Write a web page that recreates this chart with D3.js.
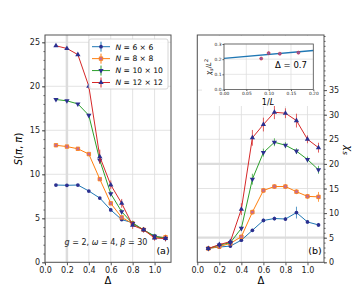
<!DOCTYPE html>
<html>
<head>
<meta charset="utf-8">
<script src="https://cdn.jsdelivr.net/npm/d3@7"></script>
<style>
  body { margin: 0; background: #fff; }
  svg { font-family: "DejaVu Sans", sans-serif; }
</style>
</head>
<body>
<div id="chart"></div>
<script>
// data
var deltas = [0.1, 0.2, 0.3, 0.4, 0.5, 0.6, 0.7, 0.8, 0.9, 1.0, 1.1];
var sizes = ["6 × 6", "8 × 8", "10 × 10", "12 × 12"];
var colors = ["#1f77b4", "#ff7f0e", "#2ca02c", "#d62728"];
var markers = ["circle", "square", "triDown", "triUp"];

// panel (a): S(pi,pi)
var sA6  = [8.78, 8.75, 8.78, 8.1, 7.3, 5.95, 4.85, 4.5, 3.65, 3.0, 2.75];
var sA8  = [13.3, 13.15, 12.9, 12.3, 9.45, 6.7, 5.1, 4.4, 3.7, 2.85, 2.85];
var sA10 = [18.5, 18.35, 18.0, 16.7, 11.6, 7.8, 5.75, 4.4, 3.7, 2.95, 2.7];
var sA12 = [24.6, 24.3, 23.6, 20.0, 12.0, 8.8, 6.7, 4.2, 3.7, 2.75, 2.7];
var eA6  = [0.1, 0.1, 0.1, 0.1, 0.1, 0.15, 0.15, 0.2, 0.2, 0.2, 0.2];
var eA8  = [0.1, 0.1, 0.1, 0.15, 0.2, 0.2, 0.2, 0.3, 0.2, 0.3, 0.3];
var eA10 = [0.1, 0.1, 0.1, 0.2, 0.4, 0.3, 0.3, 0.3, 0.2, 0.3, 0.3];
var eA12 = [0.1, 0.1, 0.1, 0.3, 0.8, 0.5, 0.5, 0.4, 0.3, 0.3, 0.3];

// panel (b): chi_s
var cB6  = [2.85, 3.1, 3.3, 4.5, 6.5, 8.5, 8.9, 8.8, 10.1, 8.2, 7.6];
var cB8  = [2.8, 3.2, 3.85, 5.2, 10.2, 14.6, 15.4, 15.4, 14.35, 13.4, 13.3];
var cB10 = [2.8, 3.5, 4.0, 6.9, 16.9, 22.3, 24.4, 23.8, 22.6, 20.9, 18.8];
var cB12 = [2.8, 3.6, 4.2, 10.8, 25.3, 28.0, 30.5, 30.3, 28.8, 25.0, 23.3];
var eB6  = [0.2, 0.2, 0.2, 0.3, 0.3, 0.4, 0.4, 0.4, 1.2, 0.4, 0.4];
var eB8  = [0.2, 0.2, 0.2, 0.3, 0.5, 0.5, 0.5, 0.5, 0.5, 0.5, 1.0];
var eB10 = [0.2, 0.2, 0.3, 0.5, 1.1, 0.8, 0.8, 0.6, 0.6, 0.6, 0.8];
var eB12 = [0.2, 0.2, 0.3, 1.2, 1.6, 1.4, 1.4, 1.0, 1.4, 0.8, 1.0];

// inset: chi_s/L^2 vs 1/L at Delta = 0.7
var invL = [1 / 12, 1 / 10, 1 / 8, 1 / 6];
var chiL2 = [0.204, 0.24, 0.236, 0.243];
var fitX = [0, 0.2];
var fitY = [0.205, 0.257];

var xTicks = [0.0, 0.2, 0.4, 0.6, 0.8, 1.0];
var yTicksA = [0, 5, 10, 15, 20, 25];
var yTicksB = [0, 5, 10, 15, 20, 25, 30, 35];
var insetXTicks = [0.00, 0.05, 0.10, 0.15, 0.20];
var insetYTicks = [0.0, 0.1, 0.2, 0.3];

var seriesA = [sA6, sA8, sA10, sA12];
var errA = [eA6, eA8, eA10, eA12];
var seriesB = [cB6, cB8, cB10, cB12];
var errB = [eB6, eB8, eB10, eB12];

var spine = "#555", gridC = "#dcdcdc", markFill = "#2b2f8f";

var svg = d3.select("#chart").append("svg")
    .attr("width", 360)
    .attr("height", 300);

var plotTop = 35, plotBottom = 262.3;

// scales
var xA = d3.scaleLinear().domain([0, 1.15]).range([45, 171]);
var yA = d3.scaleLinear().domain([0, 25.83]).range([plotBottom, plotTop]);
var xB = d3.scaleLinear().domain([0, 1.15]).range([197.3, 324]);
var yB = d3.scaleLinear().domain([0, 46.2]).range([plotBottom, plotTop]);

function symbolFor(kind) {
    if (kind == "circle") return d3.symbol().type(d3.symbolCircle).size(11);
    if (kind == "square") return d3.symbol().type(d3.symbolSquare).size(12);
    return d3.symbol().type(d3.symbolTriangle).size(12);
}

function drawPanel(g, x, y, series, errs, yTicks, heavyX, heavyY) {
    // grid
    g.selectAll(".gx").data(xTicks).enter().append("line")
        .attr("x1", d => x(d)).attr("x2", d => x(d))
        .attr("y1", plotTop).attr("y2", plotBottom)
        .attr("stroke", gridC)
        .attr("stroke-width", d => heavyX.indexOf(d) >= 0 ? 2.5 : 0.8);
    g.selectAll(".gy").data(yTicks).enter().append("line")
        .attr("x1", x.range()[0]).attr("x2", x.range()[1])
        .attr("y1", d => y(d)).attr("y2", d => y(d))
        .attr("stroke", gridC)
        .attr("stroke-width", d => heavyY.indexOf(d) >= 0 ? 2.2 : 0.8);

    series.forEach(function (vals, i) {
        var line = d3.line().x((d, j) => x(deltas[j])).y(d => y(d));
        g.append("path")
            .datum(vals)
            .attr("d", line)
            .attr("fill", "none")
            .attr("stroke", colors[i])
            .attr("stroke-width", 1);
        // error bars
        g.selectAll(".err" + i).data(vals).enter().append("line")
            .attr("x1", (d, j) => x(deltas[j])).attr("x2", (d, j) => x(deltas[j]))
            .attr("y1", (d, j) => y(d - errs[i][j]))
            .attr("y2", (d, j) => y(d + errs[i][j]))
            .attr("stroke", colors[i])
            .attr("stroke-opacity", 0.75)
            .attr("stroke-width", 1);
        // markers
        g.selectAll(".mk" + i).data(vals).enter().append("path")
            .attr("d", symbolFor(markers[i]))
            .attr("transform", function (d, j) {
                var rot = markers[i] == "triDown" ? " rotate(180)" : "";
                return "translate(" + x(deltas[j]) + "," + y(d) + ")" + rot;
            })
            .attr("fill", markers[i] == "square" ? "#c06a9a" : markFill)
            .attr("stroke", markers[i] == "square" ? colors[i] : "none")
            .attr("stroke-width", 0.8);
    });

    // frame
    g.append("rect")
        .attr("x", x.range()[0]).attr("y", plotTop)
        .attr("width", x.range()[1] - x.range()[0])
        .attr("height", plotBottom - plotTop)
        .attr("fill", "none")
        .attr("stroke", spine)
        .attr("stroke-width", 1);

    // x axis
    var ax = g.append("g")
        .attr("transform", "translate(0," + plotBottom + ")")
        .call(d3.axisBottom(x).tickValues(xTicks).tickFormat(d3.format(".1f")).tickSize(3).tickPadding(2));
    ax.select(".domain").remove();
    ax.selectAll("line").attr("stroke", spine);
    ax.selectAll("text").attr("font-size", 8).attr("fill", "#222")
        .attr("font-family", "DejaVu Sans");
}

var gA = svg.append("g");
drawPanel(gA, xA, yA, seriesA, errA, yTicksA, [0.2], []);
var gB = svg.append("g");
drawPanel(gB, xB, yB, seriesB, errB, yTicksB, [], [5, 20]);

// y axis of (a)
var ayA = gA.append("g")
    .attr("transform", "translate(45,0)")
    .call(d3.axisLeft(yA).tickValues(yTicksA).tickSize(3).tickPadding(2));
ayA.select(".domain").remove();
ayA.selectAll("line").attr("stroke", spine);
ayA.selectAll("text").attr("font-size", 8).attr("fill", "#222").attr("font-family", "DejaVu Sans");
gA.append("g")
    .attr("transform", "translate(45,0)")
    .call(d3.axisLeft(yA).tickValues(d3.range(0, 26, 1)).tickSize(1.5).tickFormat(""))
    .call(s => s.select(".domain").remove())
    .selectAll("line").attr("stroke", spine);

// right y axis of (b)
var ayB = gB.append("g")
    .attr("transform", "translate(324,0)")
    .call(d3.axisRight(yB).tickValues(yTicksB).tickSize(3).tickPadding(2));
ayB.select(".domain").remove();
ayB.selectAll("line").attr("stroke", spine);
ayB.selectAll("text").attr("font-size", 8).attr("fill", "#222").attr("font-family", "DejaVu Sans");
gB.append("g")
    .attr("transform", "translate(324,0)")
    .call(d3.axisRight(yB).tickValues(d3.range(0, 47, 1)).tickSize(1.5).tickFormat(""))
    .call(s => s.select(".domain").remove())
    .selectAll("line").attr("stroke", spine);

// axis labels
svg.append("text").attr("x", 108).attr("y", 284).attr("text-anchor", "middle")
    .attr("font-size", 10).text("Δ");
svg.append("text").attr("x", 261).attr("y", 284).attr("text-anchor", "middle")
    .attr("font-size", 10).text("Δ");

var yl = svg.append("text")
    .attr("transform", "translate(22,149) rotate(-90)")
    .attr("text-anchor", "middle")
    .attr("font-size", 10);
yl.append("tspan").attr("font-style", "italic").text("S");
yl.append("tspan").text("(");
yl.append("tspan").attr("font-style", "italic").text("π");
yl.append("tspan").text(", ");
yl.append("tspan").attr("font-style", "italic").text("π");
yl.append("tspan").text(")");

var yr = svg.append("text")
    .attr("transform", "translate(345,150) rotate(90)")
    .attr("text-anchor", "middle")
    .attr("font-size", 10);
yr.append("tspan").attr("font-style", "italic").text("χ");
yr.append("tspan").attr("font-style", "italic").attr("font-size", 7).attr("dy", 2).text("s");

// annotation text
var ann = svg.append("text").attr("x", 106).attr("y", 245)
    .attr("text-anchor", "middle").attr("font-size", 8).attr("fill", "#222");
ann.append("tspan").attr("font-style", "italic").text("g");
ann.append("tspan").text(" = 2, ");
ann.append("tspan").attr("font-style", "italic").text("ω");
ann.append("tspan").text(" = 4, ");
ann.append("tspan").attr("font-style", "italic").text("β");
ann.append("tspan").text(" = 30");

svg.append("text").attr("x", 163).attr("y", 253.5).attr("text-anchor", "middle")
    .attr("font-size", 9.5).text("(a)");
svg.append("text").attr("x", 315).attr("y", 253.5).attr("text-anchor", "middle")
    .attr("font-size", 9.5).text("(b)");

// legend
var lg = svg.append("g");
lg.append("rect").attr("x", 89).attr("y", 39).attr("width", 79).attr("height", 50)
    .attr("rx", 2).attr("fill", "white").attr("fill-opacity", 0.9)
    .attr("stroke", "#ccc").attr("stroke-width", 0.8);
var rowY = d3.scaleLinear().domain([0, 3]).range([46.7, 82.5]);
sizes.forEach(function (s, i) {
    var yy = rowY(i);
    lg.append("line").attr("x1", 92).attr("x2", 110).attr("y1", yy).attr("y2", yy)
        .attr("stroke", colors[i]).attr("stroke-width", 1);
    lg.append("line").attr("x1", 101).attr("x2", 101).attr("y1", yy - 5).attr("y2", yy + 5)
        .attr("stroke", colors[i]).attr("stroke-width", 1);
    lg.append("path").attr("d", symbolFor(markers[i]))
        .attr("transform", "translate(101," + yy + ")" + (markers[i] == "triDown" ? " rotate(180)" : ""))
        .attr("fill", markers[i] == "square" ? "#c06a9a" : markFill)
        .attr("stroke", markers[i] == "square" ? colors[i] : "none")
        .attr("stroke-width", 0.8);
    var t = lg.append("text").attr("x", 115.5).attr("y", yy + 2.8).attr("font-size", 7.6);
    t.append("tspan").attr("font-style", "italic").text("N");
    t.append("tspan").text(" = " + s);
});

// inset
var xI = d3.scaleLinear().domain([0, 0.2]).range([224, 313.3]);
var yI = d3.scaleLinear().domain([0, 0.3]).range([89.5, 44]);
var gi = svg.append("g");
gi.append("rect").attr("x", 202).attr("y", 36).attr("width", 121).attr("height", 70)
    .attr("fill", "white");
gi.selectAll(".igx").data(insetXTicks).enter().append("line")
    .attr("x1", d => xI(d)).attr("x2", d => xI(d)).attr("y1", 44).attr("y2", 89.5)
    .attr("stroke", gridC).attr("stroke-width", 0.7);
gi.selectAll(".igy").data(insetYTicks).enter().append("line")
    .attr("x1", 224).attr("x2", 313.3).attr("y1", d => yI(d)).attr("y2", d => yI(d))
    .attr("stroke", gridC).attr("stroke-width", 0.7);
gi.append("path")
    .datum(fitX.map((d, i) => [d, fitY[i]]))
    .attr("d", d3.line().x(d => xI(d[0])).y(d => yI(d[1])))
    .attr("stroke", "#1f77b4").attr("stroke-width", 1.4).attr("fill", "none");
gi.selectAll(".ipt").data(invL).enter().append("circle")
    .attr("cx", d => xI(d)).attr("cy", (d, i) => yI(chiL2[i]))
    .attr("r", 1.5).attr("fill", "#8a5ab0").attr("stroke", "#d62728").attr("stroke-width", 0.6);
gi.append("rect").attr("x", 224).attr("y", 44).attr("width", 89.3).attr("height", 45.5)
    .attr("fill", "none").attr("stroke", spine).attr("stroke-width", 0.8);
var ix = gi.append("g").attr("transform", "translate(0,89.5)")
    .call(d3.axisBottom(xI).tickValues(insetXTicks).tickFormat(d3.format(".2f")).tickSize(1.5).tickPadding(1));
ix.select(".domain").remove();
ix.selectAll("line").attr("stroke", spine);
ix.selectAll("text").attr("font-size", 4.4).attr("fill", "#222").attr("font-family", "DejaVu Sans");
var iy = gi.append("g").attr("transform", "translate(224,0)")
    .call(d3.axisLeft(yI).tickValues(insetYTicks).tickFormat(d3.format(".1f")).tickSize(1.5).tickPadding(1));
iy.select(".domain").remove();
iy.selectAll("line").attr("stroke", spine);
iy.selectAll("text").attr("font-size", 4.4).attr("fill", "#222").attr("font-family", "DejaVu Sans");

var il = gi.append("text").attr("x", 268).attr("y", 104.5).attr("text-anchor", "middle")
    .attr("font-size", 8);
il.append("tspan").text("1/");
il.append("tspan").attr("font-style", "italic").text("L");

var iyl = gi.append("text").attr("transform", "translate(211,67) rotate(-90)")
    .attr("text-anchor", "middle").attr("font-size", 7);
iyl.append("tspan").attr("font-style", "italic").text("χ");
iyl.append("tspan").attr("font-style", "italic").attr("font-size", 5).attr("dy", 1.5).text("s");
iyl.append("tspan").attr("dy", -1.5).text("/");
iyl.append("tspan").attr("font-style", "italic").text("L");
iyl.append("tspan").attr("font-size", 5).attr("dy", -3).text("2");

gi.append("text").attr("x", 291).attr("y", 67.5).attr("text-anchor", "middle")
    .attr("font-size", 8.5).text("Δ = 0.7");
</script>
</body>
</html>
